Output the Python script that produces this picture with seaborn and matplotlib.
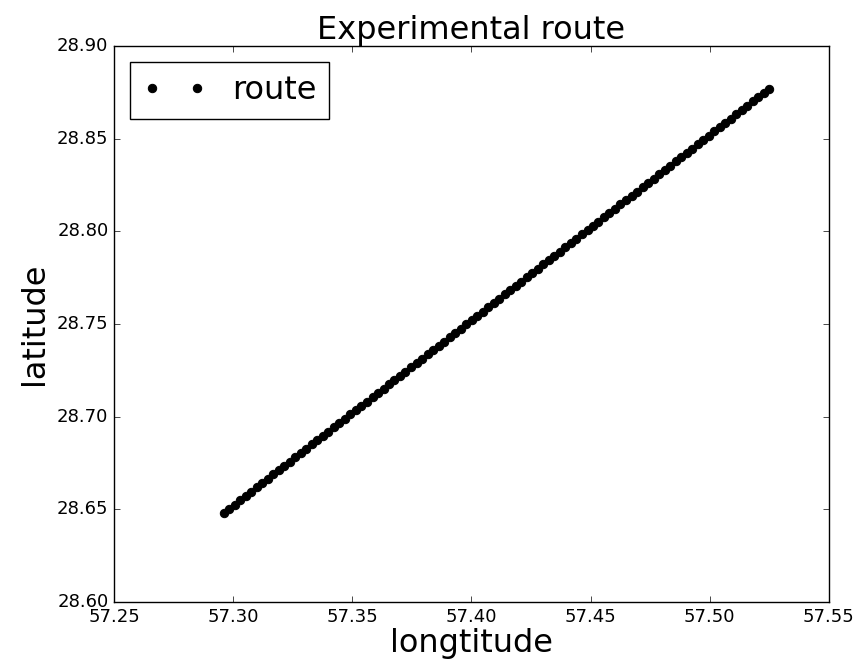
import matplotlib
matplotlib.use("Agg")
import matplotlib.pyplot as plt
import seaborn as sns
import pandas as pd

# route points
longitude = [
    57.2960, 57.2983, 57.3006, 57.3029, 57.3053, 57.3076, 57.3099, 57.3122, 57.3145, 57.3168,
    57.3191, 57.3214, 57.3238, 57.3261, 57.3284, 57.3307, 57.3330, 57.3353, 57.3376, 57.3399,
    57.3423, 57.3446, 57.3469, 57.3492, 57.3515, 57.3538, 57.3561, 57.3585, 57.3608, 57.3631,
    57.3654, 57.3677, 57.3700, 57.3723, 57.3746, 57.3770, 57.3793, 57.3816, 57.3839, 57.3862,
    57.3885, 57.3908, 57.3932, 57.3955, 57.3978, 57.4001, 57.4024, 57.4047, 57.4070, 57.4093,
    57.4117, 57.4140, 57.4163, 57.4186, 57.4209, 57.4232, 57.4255, 57.4278, 57.4302, 57.4325,
    57.4348, 57.4371, 57.4394, 57.4417, 57.4440, 57.4464, 57.4487, 57.4510, 57.4533, 57.4556,
    57.4579, 57.4602, 57.4625, 57.4649, 57.4672, 57.4695, 57.4718, 57.4741, 57.4764, 57.4787,
    57.4811, 57.4834, 57.4857, 57.4880, 57.4903, 57.4926, 57.4949, 57.4972, 57.4996, 57.5019,
    57.5042, 57.5065, 57.5088, 57.5111, 57.5134, 57.5157, 57.5181, 57.5204, 57.5227, 57.5250,
]
latitude = [
    28.6480, 28.6503, 28.6526, 28.6549, 28.6573, 28.6596, 28.6619, 28.6642, 28.6665, 28.6688,
    28.6711, 28.6734, 28.6758, 28.6781, 28.6804, 28.6827, 28.6850, 28.6873, 28.6896, 28.6919,
    28.6943, 28.6966, 28.6989, 28.7012, 28.7035, 28.7058, 28.7081, 28.7105, 28.7128, 28.7151,
    28.7174, 28.7197, 28.7220, 28.7243, 28.7266, 28.7290, 28.7313, 28.7336, 28.7359, 28.7382,
    28.7405, 28.7428, 28.7452, 28.7475, 28.7498, 28.7521, 28.7544, 28.7567, 28.7590, 28.7613,
    28.7637, 28.7660, 28.7683, 28.7706, 28.7729, 28.7752, 28.7775, 28.7798, 28.7822, 28.7845,
    28.7868, 28.7891, 28.7914, 28.7937, 28.7960, 28.7984, 28.8007, 28.8030, 28.8053, 28.8076,
    28.8099, 28.8122, 28.8145, 28.8169, 28.8192, 28.8215, 28.8238, 28.8261, 28.8284, 28.8307,
    28.8331, 28.8354, 28.8377, 28.8400, 28.8423, 28.8446, 28.8469, 28.8492, 28.8516, 28.8539,
    28.8562, 28.8585, 28.8608, 28.8631, 28.8654, 28.8677, 28.8701, 28.8724, 28.8747, 28.8770,
]

df = pd.DataFrame({"lon": longitude, "lat": latitude})

plt.style.use("classic")

fig = plt.figure(figsize=(8.59, 6.72), dpi=100, facecolor="white")
ax = fig.add_axes([0.1327, 0.1042, 0.8323, 0.8273])

sns.lineplot(data=df, x="lon", y="lat", sort=False, estimator=None,
             linestyle="", marker="o", markersize=6, color="black",
             markeredgecolor="black", label="route", ax=ax)

ax.set_xlim(57.25, 57.55)
ax.set_ylim(28.60, 28.90)
ax.set_xticks([57.25, 57.30, 57.35, 57.40, 57.45, 57.50, 57.55])
ax.set_yticks([28.60, 28.65, 28.70, 28.75, 28.80, 28.85, 28.90])
ax.set_xticklabels(["%.2f" % v for v in ax.get_xticks()])
ax.set_yticklabels(["%.2f" % v for v in ax.get_yticks()])
ax.tick_params(labelsize=13)

ax.set_title("Experimental route", fontsize=23)
ax.set_xlabel("longtitude", fontsize=23, labelpad=2)
ax.set_ylabel("latitude", fontsize=23)
ax.legend(loc="upper left", fontsize=23, numpoints=2)

fig.savefig("out.png", dpi=100, facecolor="white")
